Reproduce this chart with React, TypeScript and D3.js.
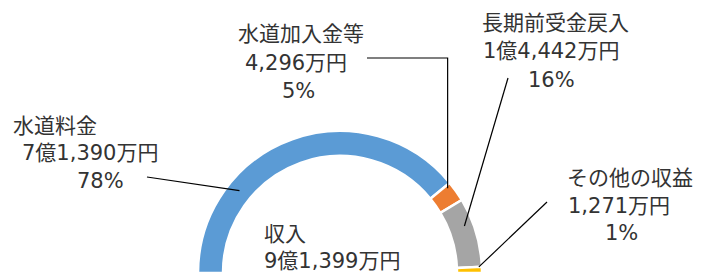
import { arc, format, pie, sum } from 'd3';

// revenue breakdown, amounts in 万円
const categories = ['水道料金', '水道加入金等', '長期前受金戻入', 'その他の収益'];
const amounts = [71390, 4296, 14442, 1271];
const colors = ['#5B9BD5', '#ED7D31', '#A5A5A5', '#FFC000'];
const totalTitle = '収入';

const width = 707;
const height = 274;
const cx = 340;
const cy = 273;
const outerR = 142;
const innerR = 117;
const fontSize = 21;
const fontFamily = "'DejaVu Sans', 'Noto Sans CJK JP', sans-serif";

// label placement: left x / baseline y of each line, leader start, leader anchor in slice
const labelLayout = [
  { lines: [[13, 133], [22, 160], [77, 188]], from: [147, 177], t: 0.28, r: 130, elbow: false },
  { lines: [[238, 41], [245, 70], [282, 98]], from: [367, 58], t: 0.14, r: 137, elbow: true },
  { lines: [[482, 30], [483, 58], [528, 87]], from: [508, 78], t: 0.36, r: 133, elbow: false },
  { lines: [[567, 185], [568, 213], [605, 240]], from: [547, 202], t: 0.0, r: 139, elbow: false },
];

const commas = format(',');
function yen(v: number) {
  return v >= 10000 ? `${Math.floor(v / 10000)}億${commas(v % 10000)}万円` : `${commas(v)}万円`;
}

function polar(angle: number, r: number): [number, number] {
  return [cx + r * Math.sin(angle), cy - r * Math.cos(angle)];
}

export default function App() {
  const total = sum(amounts);
  const slices = pie<number>()
    .sort(null)
    .startAngle(-Math.PI / 2)
    .endAngle(Math.PI / 2)(amounts);
  const ring = arc<any>().innerRadius(innerR).outerRadius(outerR);

  return (
    <svg
      width={width}
      height={height}
      viewBox={`0 0 ${width} ${height}`}
      style={{ position: 'absolute', left: 0, top: 0, background: '#fff' }}
      fontFamily={fontFamily}
      fontSize={fontSize}
    >
      <g transform={`translate(${cx},${cy})`}>
        {slices.map((s, i) => (
          <path key={categories[i]} d={ring(s) ?? ''} fill={colors[i]} stroke="#fff" strokeWidth={2.5} />
        ))}
      </g>

      {slices.map((s, i) => {
        const lay = labelLayout[i];
        const angle = s.startAngle + (s.endAngle - s.startAngle) * lay.t;
        const [ex, ey] = polar(angle, lay.r);
        const [sx, sy] = lay.from;
        const d = lay.elbow ? `M${sx},${sy}H${ex}V${ey}` : `M${sx},${sy}L${ex},${ey}`;
        const texts = [categories[i], yen(amounts[i]), `${Math.round((amounts[i] / total) * 100)}%`];
        return (
          <g key={categories[i]}>
            <path d={d} fill="none" stroke="#000" strokeWidth={1.2} />
            {texts.map((t, j) => (
              <text key={j} x={lay.lines[j][0]} y={lay.lines[j][1]} fill="#333">{t}</text>
            ))}
          </g>
        );
      })}

      <text x={264} y={241} fill="#333">{totalTitle}</text>
      <text x={264} y={268} fill="#333">{yen(total)}</text>
    </svg>
  );
}
